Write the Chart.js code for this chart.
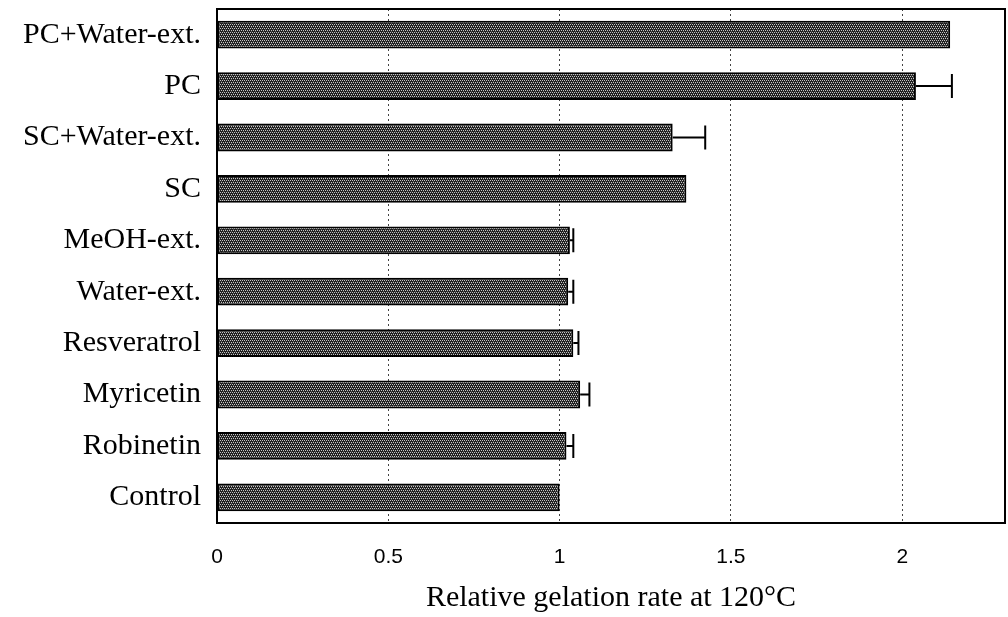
<!DOCTYPE html>
<html>
<head>
<meta charset="utf-8">
<script src="https://cdn.jsdelivr.net/npm/chart.js@4"></script>
<style>
  html, body { margin: 0; padding: 0; background: #fff; }
  #wrap { width: 1008px; height: 617px; }
</style>
</head>
<body>
<div id="wrap"><canvas id="gelChart" width="1008" height="617"></canvas></div>
<script>
const categories = ["PC+Water-ext.", "PC", "SC+Water-ext.", "SC", "MeOH-ext.",
  "Water-ext.", "Resveratrol", "Myricetin", "Robinetin", "Control"];
const rates = [2.14, 2.04, 1.33, 1.37, 1.03, 1.025, 1.04, 1.06, 1.02, 1.0];
const errors = [0, 0.105, 0.095, 0, 0.01, 0.015, 0.015, 0.027, 0.02, 0];
const xTicks = [0, 0.5, 1, 1.5, 2];

// stippled grey fill like the printed figure
function stipple() {
  const c = document.createElement("canvas");
  c.width = 4; c.height = 4;
  const g = c.getContext("2d");
  g.fillStyle = "#1e1e1e";
  g.fillRect(0, 0, 4, 4);
  g.fillStyle = "#c4c4c4";
  g.fillRect(0, 0, 1, 1); g.fillRect(2, 0, 1, 1);
  g.fillRect(1, 2, 1, 1); g.fillRect(3, 2, 1, 1);
  g.fillStyle = "#4a4a4a";
  g.fillRect(1, 1, 1, 1); g.fillRect(3, 3, 1, 1);
  return g.createPattern(c, "repeat");
}

const errorBars = {
  id: "errorBars",
  afterDatasetsDraw(chart) {
    const ctx = chart.ctx;
    const xs = chart.scales.x, ys = chart.scales.y;
    ctx.save();
    ctx.strokeStyle = "#000";
    ctx.lineWidth = 2;
    errors.forEach((e, i) => {
      if (!e) return;
      const x0 = xs.getPixelForValue(rates[i]);
      const x1 = xs.getPixelForValue(rates[i] + e);
      const y = ys.getPixelForValue(i);
      ctx.beginPath();
      ctx.moveTo(x0, y); ctx.lineTo(x1, y);
      ctx.moveTo(x1, y - 12); ctx.lineTo(x1, y + 12);
      ctx.stroke();
    });
    ctx.restore();
  }
};

const frame = {
  id: "frame",
  afterDraw(chart) {
    const a = chart.chartArea, ctx = chart.ctx;
    ctx.save();
    ctx.strokeStyle = "#000";
    ctx.lineWidth = 2;
    ctx.strokeRect(a.left, a.top, a.right - a.left, a.bottom - a.top);
    ctx.restore();
  }
};

new Chart(document.getElementById("gelChart"), {
  type: "bar",
  data: {
    labels: categories,
    datasets: [{
      data: rates,
      backgroundColor: stipple(),
      borderColor: "#000",
      borderWidth: 2,
      borderSkipped: false,
      barPercentage: 0.54,
      categoryPercentage: 1
    }]
  },
  options: {
    indexAxis: "y",
    responsive: false,
    animation: false,
    layout: { padding: { top: 9, right: 3, left: 0, bottom: 0 } },
    plugins: { legend: { display: false }, tooltip: { enabled: false } },
    scales: {
      x: {
        min: 0,
        max: 2.3,
        afterBuildTicks(scale) {
          scale.ticks = xTicks.map(v => ({ value: v }));
        },
        afterFit(scale) {
          scale.height = 94;
          scale.paddingLeft = 0; scale.paddingRight = 0;
        },
        grid: { color: "#444", lineWidth: 1, drawTicks: false },
        border: { display: true, color: "#000", width: 2, dash: [2, 3] },
        ticks: {
          color: "#000",
          padding: 22,
          callback: v => String(v),
          font: { family: "Liberation Sans", size: 21 }
        },
        title: {
          display: true,
          text: "Relative gelation rate at 120\u00b0C",
          color: "#000",
          padding: { top: 6, bottom: 1 },
          font: { family: "Liberation Serif", size: 30 }
        }
      },
      y: {
        afterFit(scale) {
          scale.width = 217;
          scale.paddingTop = 0; scale.paddingBottom = 0;
        },
        grid: { display: false, drawTicks: false },
        border: { display: true, color: "#000", width: 2 },
        ticks: {
          color: "#000",
          padding: 16,
          font: { family: "Liberation Serif", size: 30 }
        }
      }
    }
  },
  plugins: [errorBars, frame]
});
</script>
</body>
</html>
